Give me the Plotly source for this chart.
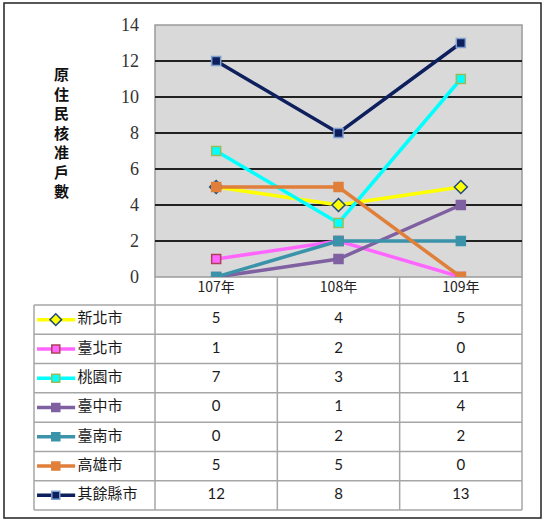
import plotly.graph_objects as go

# ---------------- data ----------------
categories = ["107年", "108年", "109年"]
series_names = ["新北市", "臺北市", "桃園市", "臺中市", "臺南市", "高雄市", "其餘縣市"]
v_xinbei = [5, 4, 5]
v_taipei = [1, 2, 0]
v_taoyuan = [7, 3, 11]
v_taichung = [0, 1, 4]
v_tainan = [0, 2, 2]
v_kaohsiung = [5, 5, 0]
v_others = [12, 8, 13]
y_ticks = [0, 2, 4, 6, 8, 10, 12, 14]
y_title = "原住民核准戶數"

series_values = [v_xinbei, v_taipei, v_taoyuan, v_taichung, v_tainan, v_kaohsiung, v_others]

# ---------------- styles ----------------
line_colors = ["#FFFF00", "#FF66FF", "#00FFFF", "#7F60A0", "#3B93AA", "#E07F3A", "#0E1F5E"]
marker_fill = ["#FFFF00", "#FF66FF", "#00FFFF", "#7F60A0", "#3B93AA", "#E07F3A", "#0E1F5E"]
marker_border = ["#1F497D", "#B0405A", "#9BBB59", "#7F60A0", "#3B93AA", "#E07F3A", "#7F9FCF"]
marker_symbol = ["diamond", "square", "square", "square", "square", "square", "square"]
marker_size = [10, 9, 9, 9, 9, 9, 9]

W, H = 544, 523
def px(x): return x / W
def py(y): return 1 - y / H

PL, PR, PT, PB = 155, 522, 25, 277     # plot area in pixels
TL, TT, TB = 34, 305, 510              # table left / top / bottom
CJK = "Noto Sans CJK TC"
SERIF = "Liberation Serif, Times New Roman, serif"

fig = go.Figure()

for i, name in enumerate(series_names):
    fig.add_trace(go.Scatter(
        x=categories, y=series_values[i], mode="lines+markers", name=name,
        line=dict(color=line_colors[i], width=3.5),
        marker=dict(symbol=marker_symbol[i], size=marker_size[i], color=marker_fill[i],
                    line=dict(color=marker_border[i], width=1.5)),
        xaxis="x", yaxis="y", showlegend=False, hoverinfo="x+y+name"))

for i, name in enumerate(series_names):
    fig.add_trace(go.Scatter(
        x=categories, y=[name] * len(categories), mode="text",
        text=[str(v) for v in series_values[i]],
        textfont=dict(family="Lato, " + CJK, size=15, color="#1A1A1A"),
        xaxis="x2", yaxis="y2", showlegend=False, hoverinfo="skip", cliponaxis=False))

for i, name in enumerate(series_names):
    fig.add_trace(go.Scatter(
        x=[0.025, 0.34], y=[name, name], mode="lines",
        line=dict(color=line_colors[i], width=3.5),
        xaxis="x3", yaxis="y3", showlegend=False, hoverinfo="skip"))
    fig.add_trace(go.Scatter(
        x=[0.18], y=[name], mode="markers",
        marker=dict(symbol=marker_symbol[i], size=marker_size[i] - 1, color=marker_fill[i],
                    line=dict(color=marker_border[i], width=1.5)),
        xaxis="x3", yaxis="y3", showlegend=False, hoverinfo="skip"))
    fig.add_trace(go.Scatter(
        x=[0.36], y=[name], mode="text", text=[name], textposition="middle right",
        textfont=dict(family=CJK, size=15, color="#1A1A1A"),
        xaxis="x3", yaxis="y3", showlegend=False, hoverinfo="skip", cliponaxis=False))

row_dom = [py(TB), py(TT)]
fig.update_layout(
    template="none",
    width=W, height=H,
    margin=dict(l=0, r=0, t=0, b=0, pad=0, autoexpand=False),
    paper_bgcolor="white", plot_bgcolor="rgba(0,0,0,0)",
    xaxis=dict(domain=[px(PL), px(PR)], type="category", categoryarray=categories,
               range=[-0.5, 2.5], showgrid=False, zeroline=False, showline=False,
               ticks="", tickfont=dict(family=CJK, size=14, color="#222"),
               anchor="y", fixedrange=True, automargin=False),
    yaxis=dict(domain=[py(PB), py(PT)], range=[0, 14], tickvals=y_ticks,
               showgrid=True, gridcolor="#222222", gridwidth=1.5, zeroline=False,
               showline=False, ticks="", ticklabelstandoff=15,
               tickfont=dict(family=SERIF, size=18, color="#333"),
               anchor="x", fixedrange=True, automargin=False),
    xaxis2=dict(domain=[px(PL), px(PR)], type="category", categoryarray=categories,
                range=[-0.5, 2.5], visible=False, anchor="y2", fixedrange=True,
                automargin=False),
    yaxis2=dict(domain=row_dom, type="category", categoryarray=series_names,
                range=[len(series_names) - 0.5, -0.5], visible=False, anchor="x2",
                fixedrange=True, automargin=False),
    xaxis3=dict(domain=[px(TL), px(PL)], range=[0, 1], visible=False, anchor="y3",
                fixedrange=True, automargin=False),
    yaxis3=dict(domain=row_dom, type="category", categoryarray=series_names,
                range=[len(series_names) - 0.5, -0.5], visible=False, anchor="x3",
                fixedrange=True, automargin=False),
)

shapes = []
shapes.append(dict(type="rect", xref="paper", yref="paper", x0=px(PL), x1=px(PR),
                   y0=py(PB), y1=py(PT), fillcolor="#D9D9D9", line=dict(width=0),
                   layer="below"))
shapes.append(dict(type="rect", xref="paper", yref="paper", x0=px(PL), x1=px(PR),
                   y0=py(PB), y1=py(PT), fillcolor="rgba(0,0,0,0)",
                   line=dict(color="#9A9A9A", width=1.5), layer="between"))
grid_c = "#A6A6A6"
n_cat = len(categories)
colw = (PR - PL) / n_cat
for k in range(n_cat + 1):
    xx = PL + k * colw
    shapes.append(dict(type="line", xref="paper", yref="paper", x0=px(xx), x1=px(xx),
                       y0=py(PB), y1=py(TB), line=dict(color=grid_c, width=1.5)))
shapes.append(dict(type="line", xref="paper", yref="paper", x0=px(TL), x1=px(TL),
                   y0=py(TT), y1=py(TB), line=dict(color=grid_c, width=1.5)))
n_rows = len(series_names)
rowh = (TB - TT) / n_rows
for r in range(n_rows + 1):
    yy = TT + r * rowh
    shapes.append(dict(type="line", xref="paper", yref="paper", x0=px(TL), x1=px(PR),
                       y0=py(yy), y1=py(yy), line=dict(color=grid_c, width=1.5)))
shapes.append(dict(type="rect", xref="paper", yref="paper", x0=px(4), x1=px(541),
                   y0=py(518), y1=py(3), fillcolor="rgba(0,0,0,0)",
                   line=dict(color="#222", width=1.5)))
fig.update_layout(shapes=shapes)

fig.add_annotation(text="<br>".join(list(y_title)), xref="paper", yref="paper",
                   x=px(61), y=py(132), showarrow=False, xanchor="center", yanchor="middle",
                   font=dict(family=CJK, size=15, color="#111", weight="bold"),
                   align="center")

fig.write_html("out.html", config={"displayModeBar": False},
               post_script=("document.documentElement.style.margin='0';"
                            "document.body.style.margin='0';"
                            "document.body.style.overflow='hidden';"))
